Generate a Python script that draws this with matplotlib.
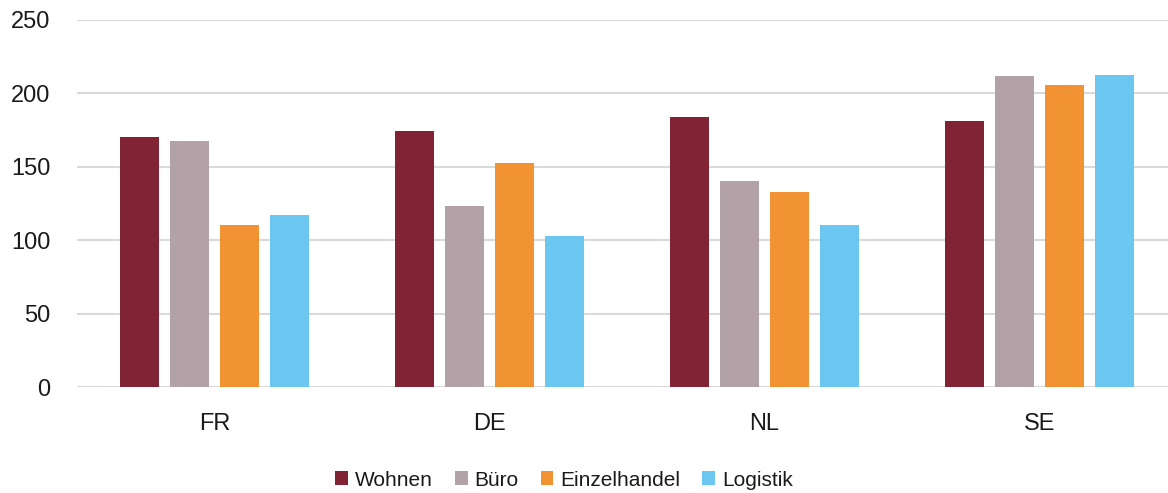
import matplotlib
matplotlib.use("Agg")
import matplotlib.pyplot as plt
from matplotlib.patches import Patch
import numpy as np

# Data
countries = ["FR", "DE", "NL", "SE"]
series_names = ["Wohnen", "Büro", "Einzelhandel", "Logistik"]
wohnen = [170.5, 174.2, 184.1, 181.0]
buero = [167.3, 123.3, 140.5, 212.1]
einzelhandel = [110.1, 152.4, 133.1, 206.0]
logistik = [117.2, 102.6, 110.4, 212.5]
y_ticks = [0, 50, 100, 150, 200, 250]

colors = ["#7f2335", "#b2a2a8", "#f19332", "#6bc6f0"]
series = [wohnen, buero, einzelhandel, logistik]

plt.rcParams["font.family"] = ["Liberation Sans", "DejaVu Sans"]

W, H = 1168, 493
fig = plt.figure(figsize=(W / 100, H / 100), dpi=100)
ax = fig.add_axes([77 / W, 106 / H, (W - 77) / W, 367 / H])

x = np.arange(len(countries))
step = 0.182
width = 0.142
for i, (vals, col) in enumerate(zip(series, colors)):
    ax.bar(x + (i - 1.5) * step, vals, width=width, color=col, zorder=3)

ax.set_xlim(-0.5, (W - 77) / 275 - 0.5)
ax.set_ylim(0, 250)
ax.set_yticks(y_ticks)
ax.set_xticks(x)
ax.set_xticklabels(countries)
ax.yaxis.grid(True, color="#d9d9d9", linewidth=1.5, zorder=0)
ax.set_axisbelow(True)
for s in ax.spines.values():
    s.set_visible(False)
ax.tick_params(axis="both", length=0, labelsize=17, colors="#1a1a1a")
ax.tick_params(axis="y", pad=19)
ax.tick_params(axis="x", pad=19)

handles = [Patch(facecolor=c, edgecolor="none") for c in colors]
fig.legend(handles, series_names, loc="center", bbox_to_anchor=(564 / W, 13 / H),
           ncol=4, frameon=False, fontsize=15, handlelength=0.62, handleheight=0.66,
           handletextpad=0.33, columnspacing=1.05, borderaxespad=0,
           labelcolor="#1a1a1a")

fig.savefig("out.png", dpi=100)
